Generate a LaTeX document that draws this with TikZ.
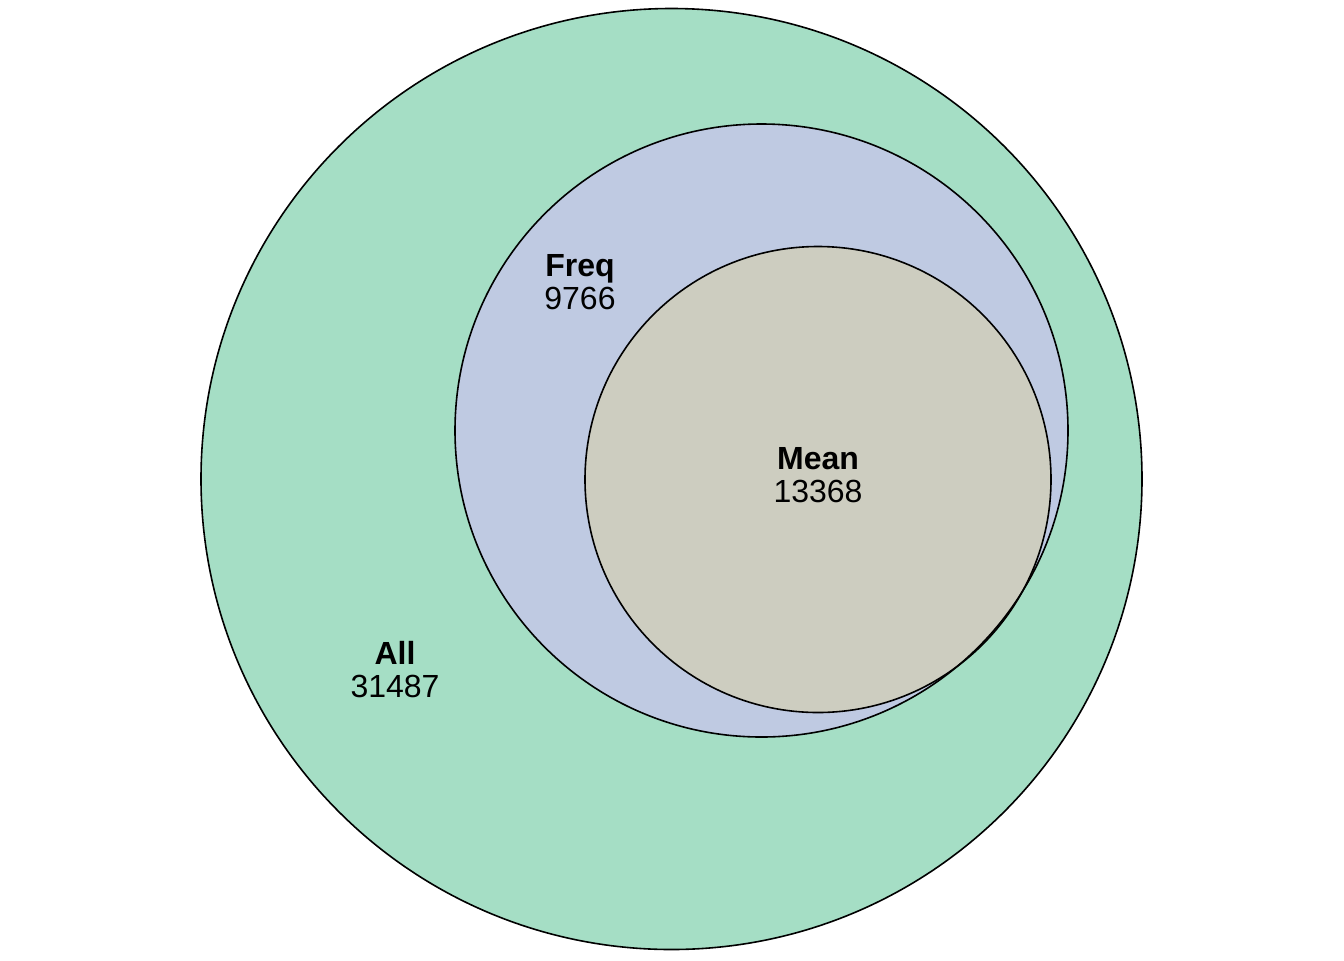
\documentclass[tikz,border=0pt]{standalone}
\usepackage{fontspec}
\setmainfont{Liberation Sans}
\definecolor{allfill}{HTML}{A5DEC5}
\definecolor{freqfill}{HTML}{BFCAE2}
\definecolor{meanfill}{HTML}{CDCDC0}
\begin{document}
\begin{tikzpicture}[x=0.5pt, y=-0.5pt, line width=0.8pt,
  setlabel/.style={align=center, font=\fontsize{16}{16.5}\selectfont, inner sep=0pt}]
\useasboundingbox (0,0) rectangle (1344,960);
\fill[allfill] (671.5,479) circle[radius=941/2];
\fill[freqfill] (761.5,430.5) circle[radius=613/2];
\fill[meanfill] (818,479.5) circle[radius=466/2];
\draw (671.5,479) circle[radius=941/2];
\draw (761.5,430.5) circle[radius=613/2];
\draw (818,479.5) circle[radius=466/2];
\node[setlabel] (all) at (395,670) {\textbf{All}\\31487};
\node[setlabel] (freq) at (580,282) {\textbf{Freq}\\9766};
\node[setlabel] (mean) at (818,475) {\textbf{Mean}\\13368};
\end{tikzpicture}
\end{document}
